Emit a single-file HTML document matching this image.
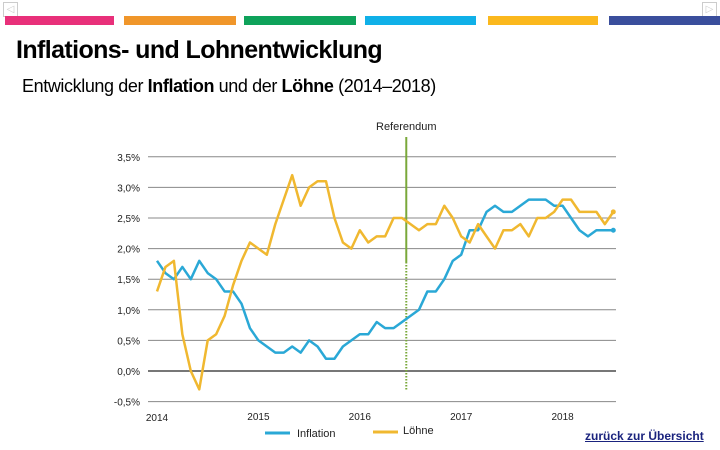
<!DOCTYPE html>
<html><head><meta charset="utf-8"><style>
body{margin:0;width:720px;height:450px;background:#fff;overflow:hidden;font-family:"Liberation Sans",sans-serif;position:relative}
.bar{position:absolute;top:16px;height:9px}
</style></head><body>
<div style="position:absolute;left:3px;top:2px;width:13px;height:13px;border:1px solid #ccc;color:#ccc;font-size:10px;line-height:13px;text-align:center">◁</div>
<div style="position:absolute;left:702px;top:2px;width:13px;height:13px;border:1px solid #ccc;color:#ccc;font-size:10px;line-height:13px;text-align:center">▷</div>
<div class="bar" style="left:5px;width:109px;background:#e8307a"></div>
<div class="bar" style="left:124px;width:112px;background:#f0962a"></div>
<div class="bar" style="left:244px;width:112px;background:#0ea25a"></div>
<div class="bar" style="left:365px;width:111px;background:#10b0e8"></div>
<div class="bar" style="left:488px;width:110px;background:#fbb81d"></div>
<div class="bar" style="left:609px;width:111px;background:#3a4e9c"></div>
<div style="position:absolute;left:16px;top:36px;font-size:25px;font-weight:bold;letter-spacing:-0.6px">Inflations- und Lohnentwicklung</div>
<div style="position:absolute;left:22px;top:76px;font-size:18px;letter-spacing:-0.4px">Entwicklung der <b>Inflation</b> und der <b>Löhne</b> (2014–2018)</div>
<svg id="chart" width="720" height="450" style="position:absolute;left:0;top:0"></svg>
<a style="position:absolute;left:585px;top:429px;font-size:12px;font-weight:bold;color:#1a237e;text-decoration:underline">zurück zur Übersicht</a>
<script>
const yTicks=[3.5,3.0,2.5,2.0,1.5,1.0,0.5,0.0,-0.5];
const yearLabels=["2014","2015","2016","2017","2018"];
const inflation=[1.8,1.6,1.5,1.7,1.5,1.8,1.6,1.5,1.3,1.3,1.1,0.7,
0.5,0.4,0.3,0.3,0.4,0.3,0.5,0.4,0.2,0.2,0.4,0.5,
0.6,0.6,0.8,0.7,0.7,0.8,0.9,1.0,1.3,1.3,1.5,1.8,
1.9,2.3,2.3,2.6,2.7,2.6,2.6,2.7,2.8,2.8,2.8,2.7,
2.7,2.5,2.3,2.2,2.3,2.3,2.3];
const wages=[1.3,1.7,1.8,0.6,0.0,-0.3,0.5,0.6,0.9,1.4,1.8,2.1,
2.0,1.9,2.4,2.8,3.2,2.7,3.0,3.1,3.1,2.5,2.1,2.0,
2.3,2.1,2.2,2.2,2.5,2.5,2.4,2.3,2.4,2.4,2.7,2.5,
2.2,2.1,2.4,2.2,2.0,2.3,2.3,2.4,2.2,2.5,2.5,2.6,
2.8,2.8,2.6,2.6,2.6,2.4,2.6];
const referendumIndex=29.5;
const svg=document.getElementById('chart');
const NS='http://www.w3.org/2000/svg';
const x=i=>157+i*8.45;
const y=v=>371-v*61.2;
function mk(t,a){const e=document.createElementNS(NS,t);for(const k in a)e.setAttribute(k,a[k]);svg.appendChild(e);return e;}
yTicks.forEach(v=>{
 const l=mk('line',{x1:148,x2:616,y1:y(v),y2:y(v),stroke:v===0?'#777':'#888','stroke-width':v===0?2:1});
 
 
 const t=mk('text',{x:140,y:y(v)+4,'text-anchor':'end','font-size':10,fill:'#222'});
 t.textContent=v.toFixed(1).replace('.',',')+'%';
 
 
});
yearLabels.forEach((s,k)=>{
 const t=mk('text',{x:x(k*12),y:k===0?421:420,'text-anchor':'middle','font-size':10,fill:'#222'});
 t.textContent=s;
 
 
});
const rx=x(referendumIndex);
const r1=mk('line',{x1:rx,x2:rx,y1:137,y2:262,stroke:'#7aa83a','stroke-width':2});


const r2=mk('line',{x1:rx,x2:rx,y1:262,y2:390,stroke:'#7aa83a','stroke-width':2,'stroke-dasharray':'1.5,1.5'});


const rt=mk('text',{x:rx,y:130,'text-anchor':'middle','font-size':11,fill:'#222'});
rt.textContent='Referendum';


function series(arr,col,name){
 const p=mk('polyline',{points:arr.map((v,i)=>x(i)+','+y(v)).join(' '),fill:'none',stroke:col,'stroke-width':2.5,'stroke-linejoin':'round'});
 
 
 const c=mk('circle',{cx:x(arr.length-1),cy:y(arr[arr.length-1]),r:2.5,fill:col});
 
 
}
series(inflation,'#2aa8d6','inflation-line');
series(wages,'#f0b830','wages-line');
const l1=mk('line',{x1:265,x2:290,y1:433,y2:433,stroke:'#2aa8d6','stroke-width':3});


const t1=mk('text',{x:297,y:437,'font-size':11,fill:'#222'});t1.textContent='Inflation';


const l2=mk('line',{x1:373,x2:398,y1:432,y2:432,stroke:'#f0b830','stroke-width':3});


const t2=mk('text',{x:403,y:434,'font-size':11,fill:'#222'});t2.textContent='Löhne';


</script>
</body></html>
